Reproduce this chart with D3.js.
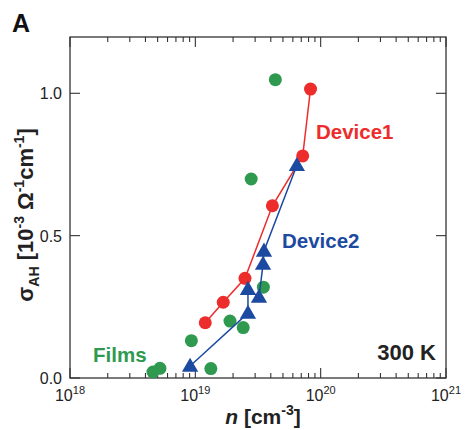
<!DOCTYPE html>
<html>
<head>
<meta charset="utf-8">
<script src="https://cdn.jsdelivr.net/npm/d3@7"></script>
<style>
  body { margin: 0; background: #fff; }
  text { font-family: "Liberation Sans", Arial, sans-serif; }
</style>
</head>
<body>
<div class="canvas"></div>
<script>
// data (n in cm^-3, sigma in 1e-3 / ohm cm)
const filmsN = [4.35e19, 2.79e19, 3.49e19, 1.89e19, 2.41e19, 9.3e18, 5.22e18, 4.59e18, 1.33e19];
const filmsS = [1.048, 0.699, 0.319, 0.200, 0.177, 0.131, 0.034, 0.021, 0.033];
const dev1N = [1.20e19, 1.67e19, 2.49e19, 4.12e19, 7.19e19, 8.3e19];
const dev1S = [0.194, 0.266, 0.350, 0.605, 0.780, 1.015];
const dev2N = [9.08e18, 2.63e19, 2.63e19, 3.22e19, 3.47e19, 3.53e19, 6.46e19];
const dev2S = [0.042, 0.228, 0.312, 0.284, 0.400, 0.446, 0.747];
const yTicks = [0, 0.5, 1.0];
const xDecades = [18, 19, 20, 21];

const colors = { films: '#2f9a4f', dev1: '#ec2d2b', dev2: '#1c4aa0' };

// graph setup
const dims = { width: 467, height: 430 };
const plot = { left: 70, right: 446, top: 37, bottom: 378 };

const svg = d3.select('.canvas')
  .append('svg')
  .attr('width', dims.width)
  .attr('height', dims.height);

const x = d3.scaleLog().domain([1e18, 1e21]).range([plot.left, plot.right]);
const y = d3.scaleLinear().domain([0, 1.0]).range([plot.bottom, 93.3]);

const axisColor = '#333';

// frame
svg.append('rect')
  .attr('x', plot.left).attr('y', plot.top)
  .attr('width', plot.right - plot.left)
  .attr('height', plot.bottom - plot.top)
  .attr('fill', 'none')
  .attr('stroke', axisColor)
  .attr('stroke-width', 1.3);

// x ticks (major + minor), top & bottom, inward
const minor = [];
xDecades.slice(0, -1).forEach(e => {
  for (let k = 2; k <= 9; k++) minor.push(k * Math.pow(10, e));
});
const ticks = svg.append('g').attr('stroke', axisColor).attr('stroke-width', 1.1);
xDecades.forEach(e => {
  const px = x(Math.pow(10, e));
  ticks.append('line').attr('x1', px).attr('x2', px).attr('y1', plot.bottom).attr('y2', plot.bottom - 10);
  ticks.append('line').attr('x1', px).attr('x2', px).attr('y1', plot.top).attr('y2', plot.top + 10);
});
minor.forEach(v => {
  const px = x(v);
  ticks.append('line').attr('x1', px).attr('x2', px).attr('y1', plot.bottom).attr('y2', plot.bottom - 5);
  ticks.append('line').attr('x1', px).attr('x2', px).attr('y1', plot.top).attr('y2', plot.top + 5);
});
yTicks.forEach(v => {
  const py = y(v);
  ticks.append('line').attr('x1', plot.left).attr('x2', plot.left + 10).attr('y1', py).attr('y2', py);
  ticks.append('line').attr('x1', plot.right).attr('x2', plot.right - 10).attr('y1', py).attr('y2', py);
});

// tick labels
svg.selectAll('.ylab')
  .data(yTicks)
  .enter().append('text')
  .attr('class', 'ylab')
  .attr('x', 62)
  .attr('y', d => y(d) + 6)
  .attr('text-anchor', 'end')
  .attr('font-size', 16)
  .attr('fill', '#222')
  .text(d => d.toFixed(1));

const xl = svg.selectAll('.xlab')
  .data(xDecades)
  .enter().append('text')
  .attr('class', 'xlab')
  .attr('x', d => x(Math.pow(10, d)))
  .attr('y', 401)
  .attr('text-anchor', 'middle')
  .attr('font-size', 16)
  .attr('fill', '#222');
xl.append('tspan').text('10');
xl.append('tspan').attr('dy', -7).attr('font-size', 11).text(d => d);

// films
svg.selectAll('.film')
  .data(filmsN.map((n, i) => [n, filmsS[i]]))
  .enter().append('circle')
  .attr('cx', d => x(d[0]))
  .attr('cy', d => y(d[1]))
  .attr('r', 6.5)
  .attr('fill', colors.films);

// device1
const line = d3.line().x(d => x(d[0])).y(d => y(d[1]));
const d1 = dev1N.map((n, i) => [n, dev1S[i]]);
svg.append('path').attr('d', line(d1)).attr('fill', 'none')
  .attr('stroke', colors.dev1).attr('stroke-width', 1.5);
svg.selectAll('.d1')
  .data(d1)
  .enter().append('circle')
  .attr('cx', d => x(d[0]))
  .attr('cy', d => y(d[1]))
  .attr('r', 6.5)
  .attr('fill', colors.dev1);

// device2
const d2 = dev2N.map((n, i) => [n, dev2S[i]]);
svg.append('path').attr('d', line(d2)).attr('fill', 'none')
  .attr('stroke', colors.dev2).attr('stroke-width', 1.5);
const tri = d3.symbol().type(d3.symbolTriangle).size(115);
svg.selectAll('.d2')
  .data(d2)
  .enter().append('path')
  .attr('d', tri)
  .attr('transform', d => `translate(${x(d[0])},${y(d[1]) + 1})`)
  .attr('fill', colors.dev2);

// annotations
const bold = (t, px, py, col, size, anchor) => svg.append('text')
  .attr('x', px).attr('y', py)
  .attr('fill', col)
  .attr('font-size', size)
  .attr('font-weight', 'bold')
  .attr('text-anchor', anchor || 'start')
  .text(t);
bold('A', 12, 32, '#111', 25);
bold('Device1', 316, 139, colors.dev1, 20.5);
bold('Device2', 282, 248, colors.dev2, 20.5);
bold('Films', 93, 362, colors.films, 20.5);
bold('300 K', 436, 360, '#222', 22, 'end');

// x axis title
const xt = svg.append('text')
  .attr('x', 263).attr('y', 424)
  .attr('text-anchor', 'middle')
  .attr('font-size', 21)
  .attr('font-weight', 'bold')
  .attr('fill', '#222');
xt.append('tspan').attr('font-style', 'italic').text('n');
xt.append('tspan').text(' [cm');
xt.append('tspan').attr('dy', -9).attr('font-size', 14).text('-3');
xt.append('tspan').attr('dy', 9).text(']');

// y axis title
const yt = svg.append('text')
  .attr('transform', 'translate(33,215) rotate(-90)')
  .attr('text-anchor', 'middle')
  .attr('font-size', 22)
  .attr('font-weight', 'bold')
  .attr('fill', '#222');
yt.append('tspan').text('σ');
yt.append('tspan').attr('dy', 6).attr('font-size', 14).text('AH');
yt.append('tspan').attr('dy', -6).text(' [10');
yt.append('tspan').attr('dy', -9).attr('font-size', 14).text('-3');
yt.append('tspan').attr('dy', 9).text(' Ω');
yt.append('tspan').attr('dy', -9).attr('font-size', 14).text('-1');
yt.append('tspan').attr('dy', 9).text('cm');
yt.append('tspan').attr('dy', -9).attr('font-size', 14).text('-1');
yt.append('tspan').attr('dy', 9).text(']');
</script>
</body>
</html>
